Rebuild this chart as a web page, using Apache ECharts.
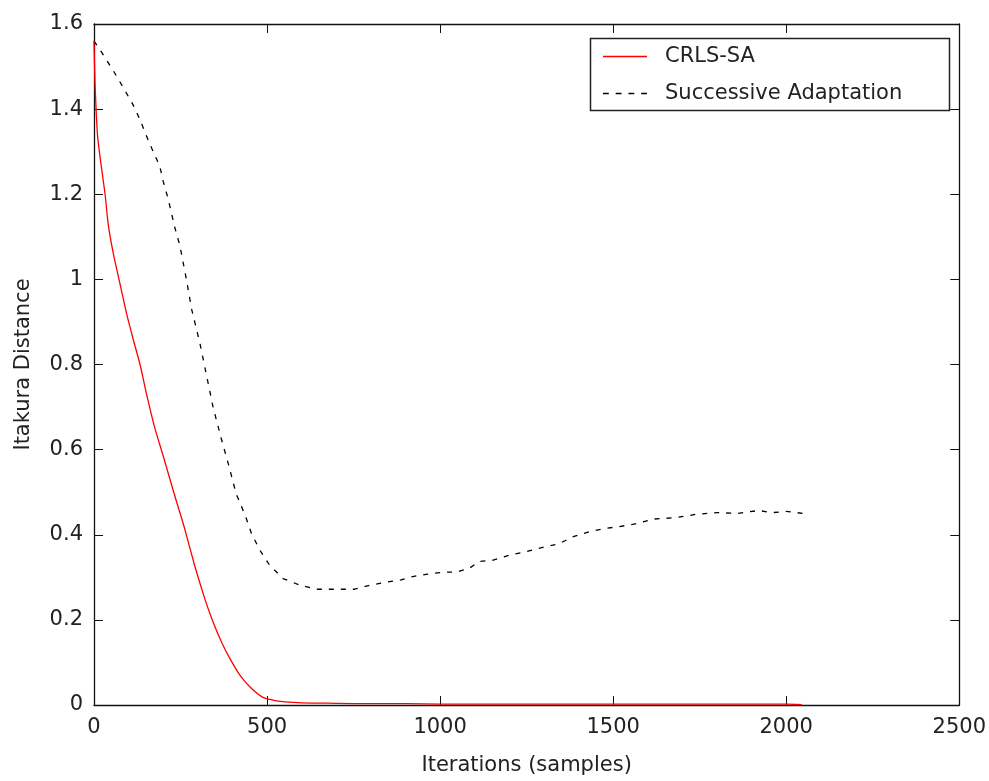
<!DOCTYPE html>
<html>
<head>
    <meta charset="utf-8">
    <title>Itakura Distance</title>
    <script src="https://cdn.jsdelivr.net/npm/echarts@6.0.0/dist/echarts.min.js"></script>
    <style>
        html, body { margin: 0; padding: 0; background: #fff; }
    </style>
</head>
<body>
<div id="main" style="width: 989px;height:781px;"></div>
<script type="text/javascript">
    // iterations (x) and Itakura distance (y)
    var crlsX = [0, 3, 10, 17, 32, 41, 56, 75, 94, 113, 133, 152, 176, 200, 234, 260, 290, 320, 344,
        370, 392, 420, 450, 488, 520, 546, 600, 700, 800, 900, 1000, 1100, 1200, 1300, 1400, 1500,
        1600, 1700, 1800, 1900, 2000, 2045];
    var crlsY = [1.56, 1.46, 1.34, 1.29, 1.20, 1.13, 1.06, 0.99, 0.92, 0.86, 0.80, 0.73, 0.65, 0.585,
        0.49, 0.42, 0.33, 0.25, 0.195, 0.145, 0.11, 0.072, 0.043, 0.018, 0.011, 0.008, 0.005, 0.004,
        0.003, 0.003, 0.002, 0.002, 0.002, 0.002, 0.002, 0.002, 0.002, 0.002, 0.002, 0.002, 0.002, 0.001];

    var saX = [0, 17, 56, 85, 113, 133, 152, 171, 190, 200, 214, 234, 248, 267, 282, 306, 325, 344,
        368, 392, 411, 421, 440, 455, 479, 507, 546, 594, 642, 700, 753, 801, 854, 887, 916, 959,
        1007, 1046, 1084, 1113, 1151, 1200, 1248, 1305, 1344, 1382, 1430, 1478, 1517, 1560, 1620,
        1680, 1740, 1800, 1860, 1920, 1960, 2000, 2050];
    var saY = [1.56, 1.54, 1.49, 1.45, 1.41, 1.375, 1.336, 1.30, 1.266, 1.23, 1.19, 1.12, 1.08, 1.0,
        0.93, 0.85, 0.775, 0.70, 0.625, 0.555, 0.495, 0.477, 0.438, 0.403, 0.364, 0.329, 0.297,
        0.282, 0.272, 0.272, 0.272, 0.282, 0.29, 0.294, 0.301, 0.307, 0.312, 0.312, 0.321, 0.337,
        0.34, 0.352, 0.36, 0.372, 0.379, 0.395, 0.407, 0.415, 0.419, 0.425, 0.437, 0.44, 0.448,
        0.452, 0.45, 0.457, 0.452, 0.455, 0.45];

    var seriesNames = ['CRLS-SA', 'Successive Adaptation'];

    function pairs(xs, ys) {
        return xs.map(function (x, i) { return [x, ys[i]]; });
    }

    var font = 'DejaVu Sans';
    var axisColor = '#111';
    var tick = { show: true, inside: true, length: 9, lineStyle: { color: axisColor } };
    var line = { show: true, onZero: false, lineStyle: { color: axisColor, width: 1.3 } };

    var myChart = echarts.init(document.getElementById('main'));
    var option = {
        backgroundColor: '#fff',
        animation: false,
        grid: {
            left: 94,
            right: 28,
            top: 24,
            bottom: 74
        },
        xAxis: [{
            type: 'value',
            min: 0,
            max: 2500,
            interval: 500,
            name: 'Iterations (samples)',
            nameLocation: 'middle',
            nameGap: 50,
            nameTextStyle: { fontFamily: font, fontSize: 21, color: '#222' },
            axisLine: line,
            axisTick: tick,
            axisLabel: {
                fontFamily: font, fontSize: 21, color: '#222', margin: 12,
                formatter: function (v) { return String(v); }
            },
            splitLine: { show: false }
        }, {
            type: 'value',
            position: 'top',
            min: 0,
            max: 2500,
            interval: 500,
            axisLine: line,
            axisTick: tick,
            axisLabel: { show: false },
            splitLine: { show: false }
        }],
        yAxis: [{
            type: 'value',
            min: 0,
            max: 1.6,
            interval: 0.2,
            name: 'Itakura Distance',
            nameLocation: 'middle',
            nameGap: 60,
            nameTextStyle: { fontFamily: font, fontSize: 21, color: '#222' },
            axisLine: line,
            axisTick: tick,
            axisLabel: { fontFamily: font, fontSize: 21, color: '#222', margin: 11 },
            splitLine: { show: false }
        }, {
            type: 'value',
            position: 'right',
            min: 0,
            max: 1.6,
            interval: 0.2,
            axisLine: line,
            axisTick: tick,
            axisLabel: { show: false },
            splitLine: { show: false }
        }],
        legend: {
            orient: 'vertical',
            left: 588,
            top: 36,
            padding: [10, 20, 8, 15],
            itemWidth: 44,
            itemHeight: 19,
            itemGap: 16,
            textStyle: { fontFamily: font, fontSize: 21, color: '#222', padding: [0, 0, 0, 13] },
            data: [{
                name: seriesNames[0],
                icon: 'path://M0,0h44v1.5h-44z'
            }, {
                name: seriesNames[1],
                icon: 'path://M0,0h5v1.5h-5z M11,0h5v1.5h-5z M22,0h5v1.5h-5z M33,0h5v1.5h-5z'
            }]
        },
        graphic: [{
            type: 'rect',
            left: 588,
            top: 36,
            shape: { width: 359, height: 72 },
            style: { fill: 'none', stroke: '#222', lineWidth: 1.5 },
            z: 10
        }],
        series: [{
            name: seriesNames[0],
            type: 'line',
            symbol: 'none',
            smooth: 0.2,
            data: pairs(crlsX, crlsY),
            lineStyle: { color: '#ff0000', width: 1.3 },
            itemStyle: { color: '#ff0000' },
            z: 3
        }, {
            name: seriesNames[1],
            type: 'line',
            symbol: 'none',
            data: pairs(saX, saY),
            lineStyle: { color: '#000', width: 1.3, type: [5, 7] },
            itemStyle: { color: '#000' },
            z: 2
        }]
    };
    myChart.setOption(option);
</script>
</body>
</html>
